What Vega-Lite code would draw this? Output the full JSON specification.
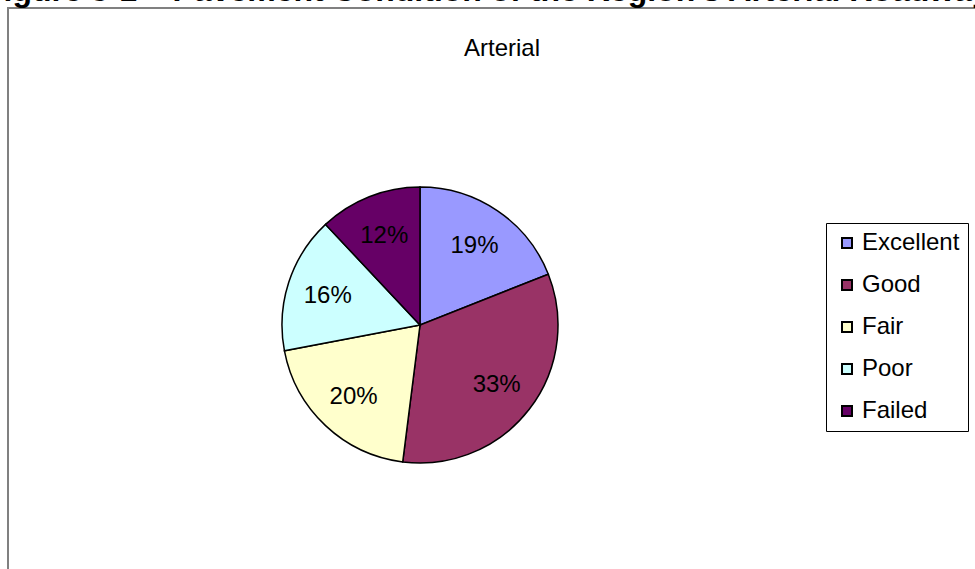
{
  "$schema": "https://vega.github.io/schema/vega-lite/v6.json",
  "autosize": "none",
  "width": 980,
  "height": 600,
  "padding": {"left": 8, "top": 8, "right": 0, "bottom": 0},
  "background": "white",
  "config": {
    "view": {"stroke": null},
    "font": "Liberation Sans"
  },
  "layer": [
    {
      "data": {"values": [{"frame": "chart area"}]},
      "mark": {"type": "rect", "fill": null, "stroke": "#808080", "strokeWidth": 2},
      "encoding": {}
    },
    {
      "data": {
        "values": [
          {"idx": 1, "condition": "Excellent", "share": 0.19},
          {"idx": 2, "condition": "Good", "share": 0.33},
          {"idx": 3, "condition": "Fair", "share": 0.20},
          {"idx": 4, "condition": "Poor", "share": 0.16},
          {"idx": 5, "condition": "Failed", "share": 0.12}
        ]
      },
      "encoding": {
        "theta": {"field": "share", "type": "quantitative", "stack": true},
        "order": {"field": "idx", "type": "quantitative"}
      },
      "layer": [
        {
          "mark": {"type": "arc", "outerRadius": 138, "stroke": "black", "strokeWidth": 1.5, "xOffset": -78, "yOffset": 17},
          "encoding": {
            "color": {
              "field": "condition",
              "type": "nominal",
              "scale": {
                "domain": ["Excellent", "Good", "Fair", "Poor", "Failed"],
                "range": ["#9999FF", "#993366", "#FFFFCC", "#CCFFFF", "#660066"]
              },
              "legend": {
                "title": null,
                "orient": "none",
                "legendX": 818,
                "legendY": 215,
                "strokeColor": "black",
                "fillColor": "white",
                "padding": 8,
                "symbolOffset": 1,
                "symbolType": "square",
                "symbolSize": 100,
                "symbolStrokeColor": "black",
                "symbolStrokeWidth": 2,
                "labelFont": "Liberation Sans",
                "labelFontSize": 24,
                "labelColor": "black",
                "labelOffset": 3,
                "rowPadding": 18
              }
            }
          }
        },
        {
          "mark": {"type": "text", "radius": 97, "font": "Liberation Sans", "fontSize": 24, "color": "black", "xOffset": -78, "yOffset": 18},
          "encoding": {
            "text": {"field": "share", "type": "quantitative", "format": ".0%"}
          }
        }
      ]
    },
    {
      "data": {"values": [{"subtitle": "Arterial"}]},
      "mark": {"type": "text", "font": "Liberation Sans", "fontSize": 24, "color": "black", "baseline": "alphabetic", "xOffset": 4, "yOffset": -252},
      "encoding": {"text": {"field": "subtitle", "type": "nominal"}}
    },
    {
      "data": {"values": [{"header": "Figure 5-1  –  Pavement Condition of the Region's Arterial Roadways"}]},
      "mark": {"type": "text", "font": "Liberation Sans", "fontSize": 32, "fontWeight": "bold", "color": "black", "align": "left", "baseline": "alphabetic", "xOffset": -514, "yOffset": -307},
      "encoding": {"text": {"field": "header", "type": "nominal"}}
    }
  ]
}
